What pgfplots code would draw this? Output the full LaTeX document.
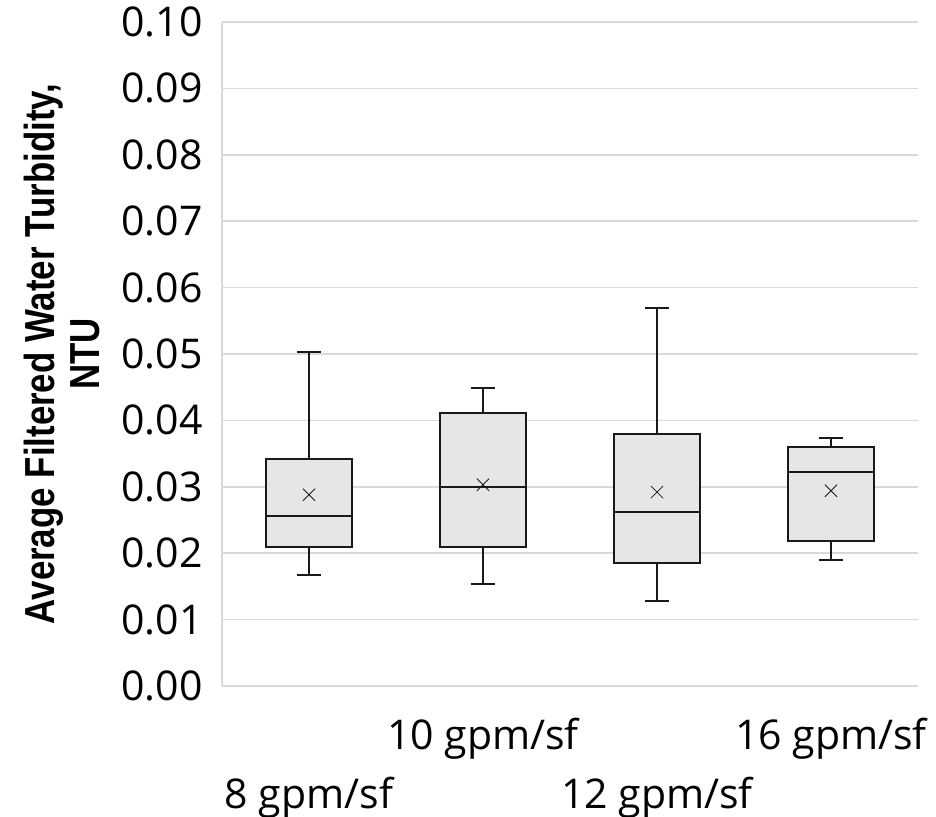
\documentclass[border=0pt]{standalone}
\usepackage{fontspec}
\setmainfont{Open Sans}
\newfontfamily\labelfont[FakeStretch=0.83]{Liberation Sans Bold}
\usepackage{pgfplots}
\pgfplotsset{compat=1.18}
\usepgfplotslibrary{statistics}
\definecolor{gridgray}{RGB}{217,217,217}
\definecolor{boxfill}{RGB}{230,230,230}
\definecolor{boxline}{RGB}{25,25,25}

\begin{document}
\begin{tikzpicture}
\begin{axis}[
  scale only axis,
  width=348pt,
  height=332pt,
  xmin=0.5, xmax=4.5,
  ymin=0, ymax=0.1,
  ytick={0,0.01,0.02,0.03,0.04,0.05,0.06,0.07,0.08,0.09,0.1},
  yticklabel style={/pgf/number format/fixed, /pgf/number format/fixed zerofill,
    /pgf/number format/precision=2, /pgf/number format/assume math mode=true,
    font=\fontsize{20.5}{24}\selectfont, anchor=east, inner sep=0pt, xshift=-9.5pt},
  xtick={1,3},
  xticklabels={8 gpm/sf, 12 gpm/sf},
  extra x ticks={2,4},
  extra x tick labels={10 gpm/sf, 16 gpm/sf},
  xticklabel style={font=\fontsize{20.5}{24}\selectfont, anchor=base, inner sep=0pt, yshift=-61.5pt},
  extra x tick style={xticklabel style={yshift=29.5pt}, grid=none},
  major tick length=0pt,
  axis lines*=left,
  axis line style={draw=gridgray, line width=0.8pt},
  ymajorgrids,
  major grid style={draw=gridgray, line width=0.8pt},
  clip=false,
  boxplot/draw direction=y,
  boxplot/box extend=0.494,
  boxplot/whisker extend=0.138,
  boxplot/every box/.style={fill=boxfill, draw=boxline, line width=1pt},
  boxplot/every whisker/.style={draw=boxline, line width=1pt},
  boxplot/every median/.style={draw=boxline, line width=1pt},
  boxplot/every average/.style={/tikz/mark=x, /tikz/mark size=4.3pt},
  meanbox/.style={draw=boxline, mark=x, mark size=4.3pt,
    mark options={draw=boxline, solid, line width=0.8pt, scale=1.4}},
]
\addplot[meanbox, boxplot prepared={draw position=1, lower whisker=0.0167, lower quartile=0.0209, median=0.0256, upper quartile=0.0342, upper whisker=0.0503, average=0.0288}] coordinates {};
\addplot[meanbox, boxplot prepared={draw position=2, lower whisker=0.0154, lower quartile=0.0209, median=0.0300, upper quartile=0.0411, upper whisker=0.0449, average=0.0303}] coordinates {};
\addplot[meanbox, boxplot prepared={draw position=3, lower whisker=0.0128, lower quartile=0.0185, median=0.0262, upper quartile=0.0380, upper whisker=0.0569, average=0.0292}] coordinates {};
\addplot[meanbox, boxplot prepared={draw position=4, lower whisker=0.0190, lower quartile=0.0218, median=0.0322, upper quartile=0.0360, upper whisker=0.0374, average=0.0294}] coordinates {};
\coordinate (bl) at (rel axis cs:0,0);
\coordinate (tr) at (rel axis cs:1,1);
\node[rotate=90, anchor=south, align=center, inner sep=0pt,
  font=\labelfont\fontsize{21}{22.5}\selectfont]
  at ([xshift=-61pt]rel axis cs:0,0.5) {Average Filtered Water Turbidity,\\NTU};
\end{axis}
\pgfresetboundingbox
\path[use as bounding box] ([shift={(-111pt,-65.5pt)}]bl) rectangle ([shift={(9pt,11pt)}]tr);
\end{tikzpicture}
\end{document}
